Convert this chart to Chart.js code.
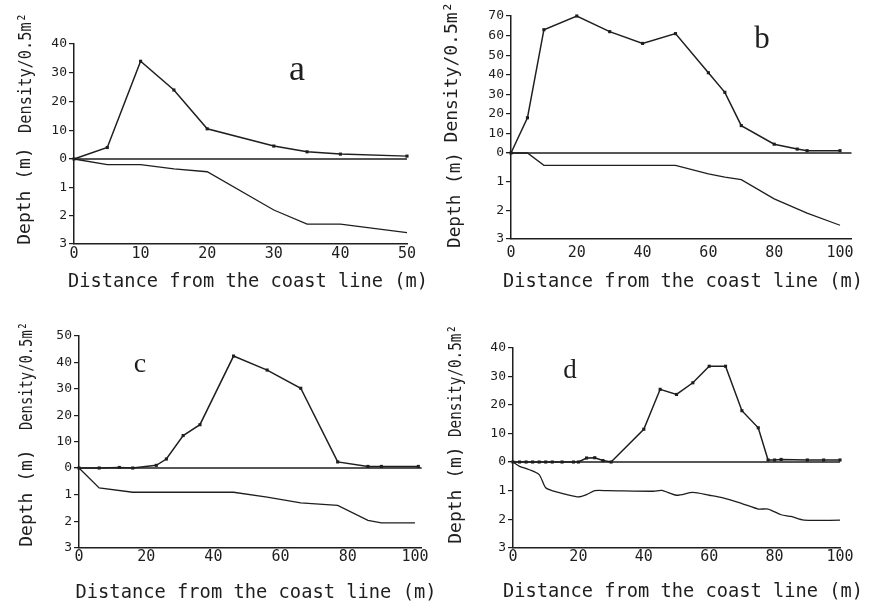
<!DOCTYPE html>
<html>
<head>
<meta charset="utf-8">
<title>Density and depth along the transects</title>
<script src="https://cdn.jsdelivr.net/npm/chart.js@4.4.1/dist/chart.umd.min.js"></script>
<style>
  html, body { margin: 0; padding: 0; background: #fff; }
  #page { position: relative; width: 878px; height: 607px; overflow: hidden; }
  .panel { position: absolute; }
</style>
</head>
<body>
<div id="page">
  <canvas id="panel-a" class="panel" width="440" height="300" style="left:0;top:0"></canvas>
  <canvas id="panel-b" class="panel" width="438" height="300" style="left:440px;top:0"></canvas>
  <canvas id="panel-c" class="panel" width="440" height="307" style="left:0;top:300px"></canvas>
  <canvas id="panel-d" class="panel" width="438" height="307" style="left:440px;top:300px"></canvas>
</div>
<script>
/* Density / depth profiles along four transects (a-d) */

const INK = "#1e1e1e";
const MONO = '"DejaVu Sans Mono", monospace';
const X_TITLE = "Distance from the coast line (m)";
const DENSITY_TITLE = "Density/0.5m\u00b2";
const DEPTH_TITLE = "Depth (m)";

/* ---------- Data ---------- */

// a
const A_DIST = [0, 5, 10, 15, 20, 30, 35, 40, 50];
const A_DENSITY = [0, 4, 34, 24, 10.5, 4.5, 2.5, 1.7, 1];
const A_DEPTH_DIST = [0, 5, 10, 15, 20, 30, 35, 40, 50];
const A_DEPTH = [0, 0.2, 0.2, 0.35, 0.45, 1.8, 2.3, 2.3, 2.6];
const A_X_TICKS = [0, 10, 20, 30, 40, 50];
const A_DENSITY_TICKS = [0, 10, 20, 30, 40];

// b
const B_DIST = [0, 5, 10, 20, 30, 40, 50, 60, 65, 70, 80, 87, 90, 100];
const B_DENSITY = [0, 18, 63, 70, 62, 56, 61, 41, 31, 14, 4.5, 2, 1.2, 1.2];
const B_DEPTH_DIST = [0, 5, 10, 50, 60, 65, 70, 80, 90, 100];
const B_DEPTH = [0, 0, 0.43, 0.43, 0.73, 0.84, 0.93, 1.6, 2.1, 2.52];
const B_X_TICKS = [0, 20, 40, 60, 80, 100];
const B_DENSITY_TICKS = [0, 10, 20, 30, 40, 50, 60, 70];

// c
const C_DIST = [0, 6, 12, 16, 23, 26, 31, 36, 46, 56, 66, 77, 86, 90, 101];
const C_DENSITY = [0, 0, 0.2, 0, 1, 3.4, 12.3, 16.4, 42.4, 37.1, 30.2, 2.3, 0.6, 0.6, 0.6];
const C_DEPTH_DIST = [0, 6, 16, 46, 56, 66, 77, 86, 90, 100];
const C_DEPTH = [0, 0.75, 0.91, 0.91, 1.09, 1.31, 1.4, 1.96, 2.06, 2.06];
const C_X_TICKS = [0, 20, 40, 60, 80, 100];
const C_DENSITY_TICKS = [0, 10, 20, 30, 40, 50];

// d
const D_DIST = [0, 2, 4, 6, 8, 10, 12, 15, 18.5, 20, 22.5, 25, 27.5, 30, 40, 45, 50, 55, 60, 65, 70, 75, 78, 80, 82, 90, 95, 100];
const D_DENSITY = [0, 0, 0, 0, 0, 0, 0, 0, 0, 0, 1.4, 1.5, 0.5, 0, 11.5, 25.5, 23.7, 27.8, 33.6, 33.6, 18, 12, 0.7, 0.7, 0.9, 0.7, 0.7, 0.7];
const D_DEPTH_DIST = [0, 2, 5, 8, 10, 12.5, 16.5, 20, 22.5, 25, 29, 43, 45.5, 50, 55, 60, 64.5, 70, 75, 78, 82, 85, 89, 100];
const D_DEPTH = [0, 0.15, 0.27, 0.44, 0.9, 1.02, 1.14, 1.22, 1.14, 1.0, 1.0, 1.02, 0.99, 1.16, 1.06, 1.16, 1.26, 1.45, 1.64, 1.64, 1.84, 1.9, 2.03, 2.03];
const D_X_TICKS = [0, 20, 40, 60, 80, 100];
const D_DENSITY_TICKS = [0, 10, 20, 30, 40];

const DEPTH_TICKS = [0, 1, 2, 3];

/* ---------- Panel letter + axis titles ---------- */

const panelText = {
    id: "panelText",
    afterDraw(chart, args, opts) {
        const ctx = chart.ctx;
        ctx.save();
        ctx.fillStyle = INK;
        ctx.textAlign = "center";

        ctx.textBaseline = "alphabetic";
        ctx.font = `${opts.letterSize}px "Liberation Serif"`;
        ctx.fillText(opts.letter, opts.letterX, opts.letterY);

        ctx.textBaseline = "middle";
        ctx.font = `19.5px ${MONO}`;
        ctx.fillText(X_TITLE, opts.xTitle[0], opts.xTitle[1], opts.xTitle[2]);

        // rotated y titles, squeezed to the length seen in the figure
        const rotated = [
            [DENSITY_TITLE, opts.densityTitle],
            [DEPTH_TITLE, opts.depthTitle],
        ];
        for (const [text, pos] of rotated) {
            ctx.save();
            ctx.translate(pos[0], pos[1]);
            ctx.rotate(-Math.PI / 2);
            ctx.font = `18px ${MONO}`;
            ctx.fillText(text, 0, 0, pos[2]);
            ctx.restore();
        }
        ctx.restore();
    }
};
Chart.register(panelText);

/* ---------- Chart builder ---------- */

const xy = (xs, ys) => xs.map((x, i) => ({ x, y: ys[i] }));
const tickList = arr => arr.map(v => ({ value: v }));

function makePanel(id, p) {
    const yCommon = {
        type: "linear",
        position: "left",
        stack: "profile",
        grid: { drawOnChartArea: false, drawTicks: true, tickLength: 5, color: INK, lineWidth: 1.2 },
        border: { display: true, color: INK, width: 1.5 },
        ticks: { color: INK, padding: 2, autoSkip: false, font: { family: MONO, size: 13 } },
        afterFit: s => { s.width = p.frame.left; },
    };

    new Chart(document.getElementById(id), {
        type: "line",
        data: {
            datasets: [
                {
                    label: "Density",
                    data: xy(p.dist, p.density),
                    yAxisID: "density",
                    borderColor: INK,
                    backgroundColor: INK,
                    borderWidth: 1.5,
                    pointStyle: "rect",
                    pointRadius: 2.2,
                    pointBorderWidth: 0,
                    clip: false,
                },
                {
                    label: "Depth",
                    data: xy(p.depthDist, p.depth),
                    yAxisID: "depth",
                    borderColor: INK,
                    borderWidth: 1.3,
                    pointRadius: 0,
                    tension: p.depthTension || 0,
                    clip: false,
                },
                {
                    label: "Surface",
                    data: xy([0, p.xMax], [0, 0]),
                    yAxisID: "depth",
                    borderColor: INK,
                    borderWidth: 1.3,
                    pointRadius: 0,
                    clip: false,
                },
            ]
        },
        options: {
            responsive: false,
            animation: false,
            events: [],
            layout: { padding: { left: 0, top: p.frame.top, right: p.frame.right, bottom: 0 } },
            plugins: {
                legend: { display: false },
                tooltip: { enabled: false },
                panelText: p.text,
            },
            scales: {
                x: {
                    type: "linear",
                    min: 0,
                    max: p.xMax,
                    afterBuildTicks: s => { s.ticks = tickList(p.xTicks); },
                    afterFit: s => { s.height = p.frame.xHeight; },
                    grid: { drawOnChartArea: false, drawTicks: false },
                    border: { display: true, color: INK, width: 1.5 },
                    ticks: { color: INK, padding: p.xTickPad, maxRotation: 0, font: { family: MONO, size: 15 } },
                },
                density: {
                    ...yCommon,
                    stackWeight: p.weights[0],
                    weight: 2,
                    min: 0,
                    max: p.densityMax,
                    afterBuildTicks: s => { s.ticks = tickList(p.densityTicks); },
                },
                depth: {
                    ...yCommon,
                    stackWeight: p.weights[1],
                    weight: 1,
                    min: 0,
                    max: 3,
                    reverse: true,
                    afterBuildTicks: s => { s.ticks = tickList(DEPTH_TICKS); },
                    ticks: { ...yCommon.ticks, callback: v => (v === 0 ? "" : v) },
                },
            }
        }
    });
}

/* ---------- Panels ---------- */

makePanel("panel-a", {
    dist: A_DIST, density: A_DENSITY, depthDist: A_DEPTH_DIST, depth: A_DEPTH,
    xTicks: A_X_TICKS, densityTicks: A_DENSITY_TICKS,
    xMax: 50, densityMax: 40, weights: [115, 85], xTickPad: 1,
    frame: { left: 74, top: 44, right: 33, xHeight: 56 },
    text: { letter: "a", letterSize: 36, letterX: 297, letterY: 80,
            xTitle: [248, 282, 360], densityTitle: [26, 73, 120], depthTitle: [25, 196, 105] },
});

makePanel("panel-b", {
    dist: B_DIST, density: B_DENSITY, depthDist: B_DEPTH_DIST, depth: B_DEPTH,
    xTicks: B_X_TICKS, densityTicks: B_DENSITY_TICKS,
    xMax: 103.5, densityMax: 70, weights: [137, 86], xTickPad: 5,
    frame: { left: 71, top: 16, right: 26.5, xHeight: 61 },
    text: { letter: "b", letterSize: 31, letterX: 322, letterY: 48,
            xTitle: [243, 282, 360], densityTitle: [12.5, 72, 143], depthTitle: [15, 200, 96] },
});

makePanel("panel-c", {
    dist: C_DIST, density: C_DENSITY, depthDist: C_DEPTH_DIST, depth: C_DEPTH,
    xTicks: C_X_TICKS, densityTicks: C_DENSITY_TICKS,
    xMax: 102, densityMax: 50, weights: [132, 80], xTickPad: 0,
    frame: { left: 79, top: 36, right: 18.3, xHeight: 59 },
    text: { letter: "c", letterSize: 28, letterX: 140, letterY: 72,
            xTitle: [256, 293, 361], densityTitle: [27, 76, 108], depthTitle: [27, 198, 103] },
});

makePanel("panel-d", {
    dist: D_DIST, density: D_DENSITY, depthDist: D_DEPTH_DIST, depth: D_DEPTH,
    xTicks: D_X_TICKS, densityTicks: D_DENSITY_TICKS,
    xMax: 100, densityMax: 40, weights: [114, 86], xTickPad: 0, depthTension: 0.25,
    frame: { left: 73, top: 48, right: 38, xHeight: 59 },
    text: { letter: "d", letterSize: 27, letterX: 130, letterY: 78,
            xTitle: [243, 292, 360], densityTitle: [16, 81, 112], depthTitle: [16, 195, 104] },
});
</script>
</body>
</html>
